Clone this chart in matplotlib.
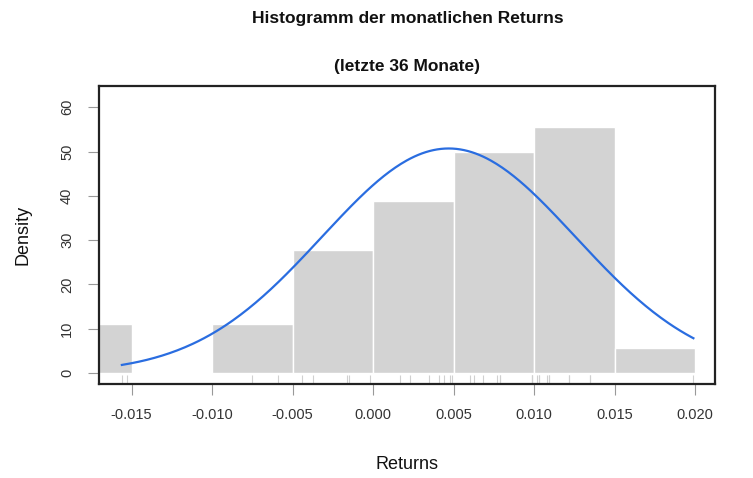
import matplotlib
matplotlib.use("Agg")
import matplotlib.pyplot as plt
import matplotlib.transforms as mtransforms
import numpy as np

plt.rcParams['font.family'] = ['Liberation Sans', 'DejaVu Sans']

# monthly returns (36 months)
returns = [-0.0156, -0.0153,
           -0.0075, -0.0059,
           -0.0044, -0.0037, -0.0016, -0.0015, -0.0002,
           0.0017, 0.0023, 0.0035, 0.0041, 0.0044, 0.0048, 0.0049,
           0.0060, 0.0063, 0.0068, 0.0077, 0.0079, 0.0079, 0.0099, 0.0099, 0.0099,
           0.0102, 0.0103, 0.0103, 0.0108, 0.0109, 0.0109, 0.0122, 0.0122, 0.0135, 0.0135,
           0.0199]
bin_edges = [-0.020, -0.015, -0.010, -0.005, 0.000, 0.005, 0.010, 0.015, 0.020]
# fitted normal curve
mu = 0.0047
sigma = 0.00787

xticks = [-0.015, -0.010, -0.005, 0.000, 0.005, 0.010, 0.015, 0.020]
xtick_labels = ['-0.015', '-0.010', '-0.005', '0.000', '0.005', '0.010', '0.015', '0.020']
yticks = [0, 10, 20, 30, 40, 50, 60]

fig = plt.figure(figsize=(7.53, 4.78), dpi=100)
ax = fig.add_axes([0.1315, 0.1967, 0.818, 0.6234])

ax.hist(returns, bins=bin_edges, density=True, color='#d3d3d3',
        edgecolor='white', linewidth=1.0)

xs = np.linspace(min(returns), max(returns), 300)
ys = np.exp(-0.5 * ((xs - mu) / sigma) ** 2) / (sigma * np.sqrt(2 * np.pi))
ax.plot(xs, ys, color='#2a6de0', linewidth=1.6)

# rug
trans = mtransforms.blended_transform_factory(ax.transData, ax.transAxes)
ax.vlines(returns, 0, 0.03, transform=trans, color='#d0d0d0', linewidth=0.8)

ax.set_xlim(-0.01702, 0.02124)
ax.set_ylim(-2.48, 64.8)

ax.set_xticks(xticks)
ax.set_xticklabels(xtick_labels)
ax.set_yticks(yticks)
ax.set_yticklabels([str(v) for v in yticks], rotation=90, va='center')
ax.tick_params(axis='both', direction='out', length=8, width=0.8,
               color='#999999', labelcolor='#333333', labelsize=10.5)
ax.tick_params(axis='x', pad=9)
ax.tick_params(axis='y', pad=10)

for s in ax.spines.values():
    s.set_linewidth(1.6)
    s.set_color('#222222')

fig.text(0.541, 0.962, 'Histogramm der monatlichen Returns', ha='center', va='center',
         fontsize=12.5, fontweight='bold', color='#111111')
fig.text(0.541, 0.860, '(letzte 36 Monate)', ha='center', va='center',
         fontsize=12.5, fontweight='bold', color='#111111')
fig.text(0.541, 0.029, 'Returns', ha='center', va='center', fontsize=13, color='#111111')
fig.text(0.030, 0.508, 'Density', ha='center', va='center', rotation=90,
         fontsize=13, color='#111111')

fig.savefig('out.png', dpi=100)
